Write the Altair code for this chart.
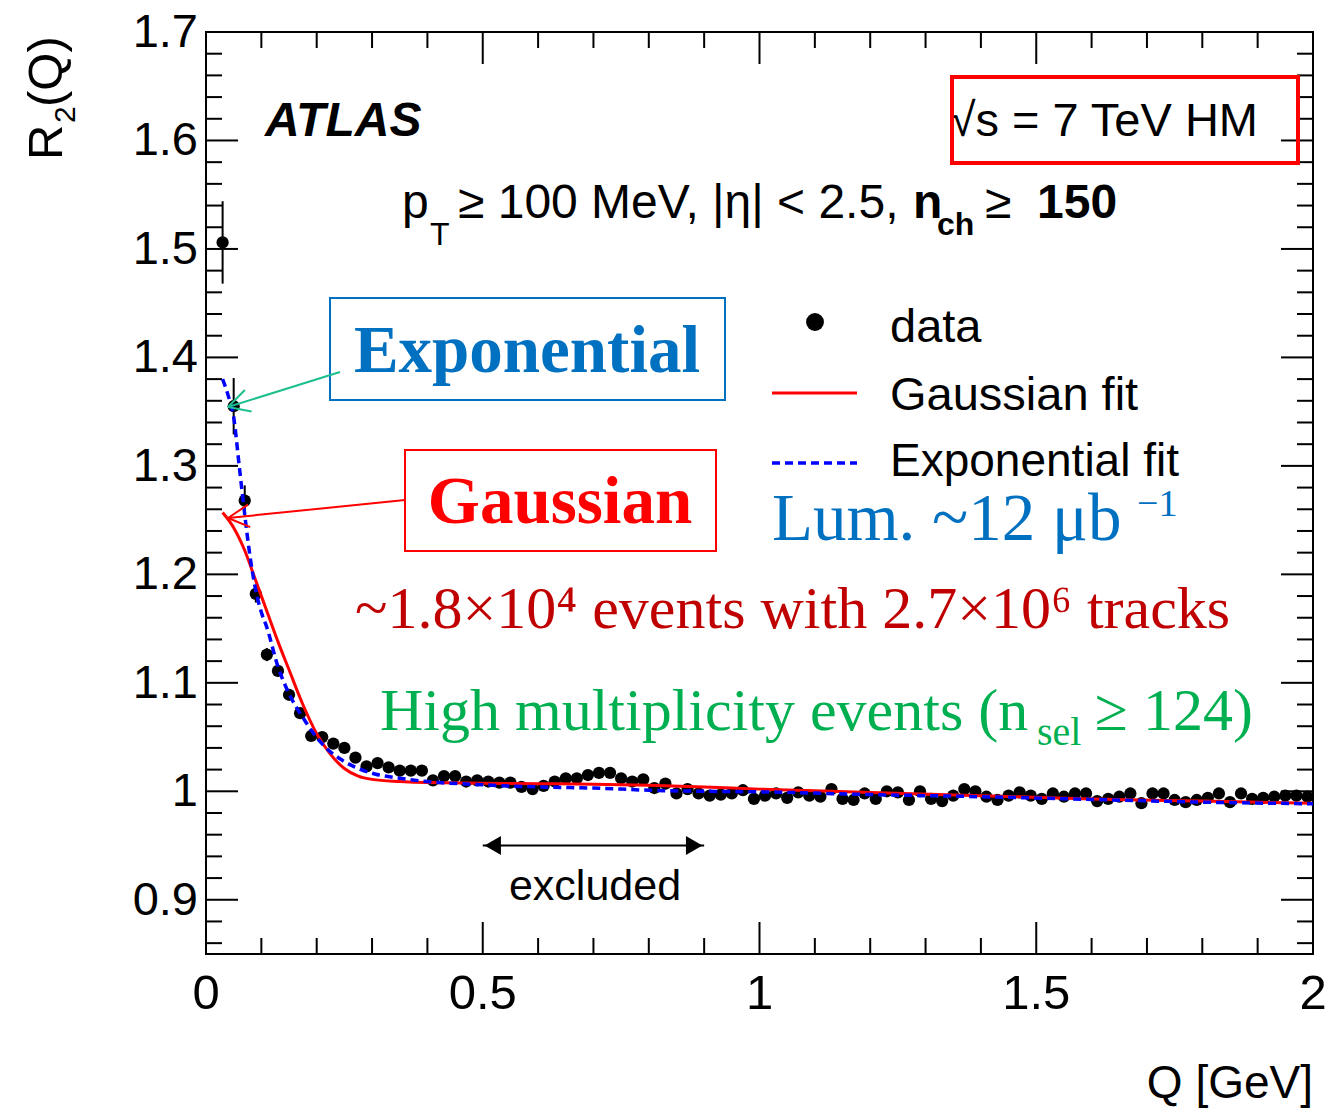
import math
import altair as alt
import pandas as pd

# ---------------- data ----------------
Q = [0.03, 0.05, 0.07, 0.09, 0.11, 0.13, 0.15, 0.17, 0.19, 0.21,
     0.23, 0.25, 0.27, 0.29, 0.31, 0.33, 0.35, 0.37, 0.39, 0.41,
     0.43, 0.45, 0.47, 0.49, 0.51, 0.53, 0.55, 0.57, 0.59, 0.61,
     0.63, 0.65, 0.67, 0.69, 0.71, 0.73, 0.75, 0.77, 0.79, 0.81,
     0.83, 0.85, 0.87, 0.89, 0.91, 0.93, 0.95, 0.97, 0.99, 1.01,
     1.03, 1.05, 1.07, 1.09, 1.11, 1.13, 1.15, 1.17, 1.19, 1.21,
     1.23, 1.25, 1.27, 1.29, 1.31, 1.33, 1.35, 1.37, 1.39, 1.41,
     1.43, 1.45, 1.47, 1.49, 1.51, 1.53, 1.55, 1.57, 1.59, 1.61,
     1.63, 1.65, 1.67, 1.69, 1.71, 1.73, 1.75, 1.77, 1.79, 1.81,
     1.83, 1.85, 1.87, 1.89, 1.91, 1.93, 1.95, 1.97, 1.99]
R2 = [1.506, 1.355, 1.268, 1.182, 1.126, 1.111, 1.089, 1.072, 1.051, 1.050,
      1.044, 1.040, 1.031, 1.023, 1.026, 1.022, 1.019, 1.019, 1.019, 1.010,
      1.014, 1.014, 1.009, 1.010, 1.009, 1.008, 1.008, 1.004, 1.002, 1.005,
      1.009, 1.012, 1.012, 1.015, 1.017, 1.017, 1.012, 1.009, 1.011, 1.003,
      1.007, 0.998, 1.002, 0.998, 0.996, 0.997, 0.998, 1.001, 0.993, 0.996,
      0.998, 0.994, 0.999, 0.996, 0.995, 1.002, 0.993, 0.992, 0.998, 0.993,
      1.000, 0.999, 0.992, 1.000, 0.993, 0.991, 0.996, 1.002, 1.000, 0.995,
      0.992, 0.996, 0.999, 0.996, 0.993, 0.998, 0.995, 0.998, 0.998, 0.991,
      0.993, 0.995, 0.998, 0.989, 0.998, 0.998, 0.992, 0.990, 0.992, 0.994,
      0.998, 0.990, 0.998, 0.993, 0.994, 0.995, 0.996, 0.996, 0.995]
ERR_Q = [0.03, 0.05, 0.07, 0.09, 0.11, 0.13]
ERR = [0.038, 0.026, 0.014, 0.008, 0.006, 0.005]

GAUSS_Q = [0.03, 0.05, 0.07, 0.09, 0.11, 0.13, 0.15, 0.175, 0.2, 0.225, 0.25,
           0.275, 0.3, 0.35, 0.4, 0.5, 0.6, 0.7, 0.8, 0.9, 1.0, 1.1, 1.2,
           1.4, 1.6, 1.8, 2.0]
GAUSS_R = [1.257, 1.243, 1.222, 1.194, 1.166, 1.138, 1.112, 1.080, 1.053,
           1.034, 1.021, 1.014, 1.011, 1.009, 1.008, 1.0075, 1.007, 1.0065,
           1.0055, 1.004, 1.002, 1.0005, 0.999, 0.996, 0.993, 0.991, 0.989]
EXPO_Q = [0.03, 0.04, 0.05, 0.06, 0.07, 0.08, 0.09, 0.10, 0.11, 0.13, 0.15,
          0.175, 0.195, 0.215, 0.245, 0.275, 0.305, 0.35, 0.4, 0.5, 0.6, 0.7,
          0.8, 0.9, 1.0, 1.2, 1.4, 1.6, 1.8, 2.0]
EXPO_R = [1.380, 1.365, 1.345, 1.300, 1.255, 1.215, 1.185, 1.165, 1.151,
          1.115, 1.090, 1.068, 1.053, 1.041, 1.029, 1.021, 1.016, 1.012,
          1.009, 1.006, 1.004, 1.003, 1.001, 1.0, 0.9995, 0.997, 0.995,
          0.9925, 0.990, 0.9885]

Y_MAJOR = [0.9, 1.0, 1.1, 1.2, 1.3, 1.4, 1.5, 1.6, 1.7]
Y_LABELS = ["0.9", "1", "1.1", "1.2", "1.3", "1.4", "1.5", "1.6", "1.7"]
Y_MINOR = [0.86, 0.88, 0.92, 0.94, 0.96, 0.98, 1.02, 1.04, 1.06, 1.08,
           1.12, 1.14, 1.16, 1.18, 1.22, 1.24, 1.26, 1.28, 1.32, 1.34,
           1.36, 1.38, 1.42, 1.44, 1.46, 1.48, 1.52, 1.54, 1.56, 1.58,
           1.62, 1.64, 1.66, 1.68]
X_MAJOR = [0, 0.5, 1, 1.5, 2]
X_LABELS = ["0", "0.5", "1", "1.5", "2"]
X_MINOR = [0.1, 0.2, 0.3, 0.4, 0.6, 0.7, 0.8, 0.9, 1.1, 1.2, 1.3, 1.4,
           1.6, 1.7, 1.8, 1.9]
EXCLUDED = [0.5, 0.9]
EXCLUDED_Y = 0.95

# ---------------- styling ----------------
W, H = 1107, 922
SANS = "'Liberation Sans', Arial, sans-serif"
SERIF = "'Liberation Serif', 'Times New Roman', serif"
BLUE_T = "#0070C0"
DARKRED = "#C00000"
GREEN = "#00B050"
TEAL = "#1DBF8E"

xs = alt.Scale(domain=[0, 2], nice=False, zero=False)
ys = alt.Scale(domain=[0.85, 1.7], nice=False, zero=False)
one = pd.DataFrame({"k": [0]})


def txt(s, x, y, size, font=SANS, color="black", align="left",
        baseline="alphabetic", weight="normal", style="normal", angle=0):
    return alt.Chart(one).mark_text(
        text=s, align=align, baseline=baseline, font=font, fontSize=size,
        color=color, fontWeight=weight, fontStyle=style, angle=angle
    ).encode(x=alt.value(x), y=alt.value(y))


def seg(x0, y0, x1, y1, color, width=2, dash=None):
    kw = dict(color=color, strokeWidth=width)
    if dash:
        kw["strokeDash"] = dash
    return alt.Chart(one).mark_rule(**kw).encode(
        x=alt.value(x0), y=alt.value(y0), x2=alt.value(x1), y2=alt.value(y1))


def arrow(x0, y0, x1, y1, color, width=2, head=24, ang=28):
    d = math.atan2(y0 - y1, x0 - x1)
    out = [seg(x0, y0, x1, y1, color, width)]
    for s in (1, -1):
        a = d + s * math.radians(ang)
        out.append(seg(x1, y1, x1 + head * math.cos(a), y1 + head * math.sin(a), color, width))
    return out


def box(x0, y0, x1, y1, color, width):
    return alt.Chart(one).mark_rect(filled=False, stroke=color, strokeWidth=width).encode(
        x=alt.value(x0), x2=alt.value(x1), y=alt.value(y0), y2=alt.value(y1))


def yticks(vals, length, right=False):
    df = pd.DataFrame({"v": vals})
    x0 = W if right else 0
    x1 = W - length if right else length
    return alt.Chart(df).mark_rule(color="black", strokeWidth=2).encode(
        y=alt.Y("v:Q", scale=ys, axis=None), x=alt.value(x0), x2=alt.value(x1))


def xticks(vals, length, top=False):
    df = pd.DataFrame({"v": vals})
    y0 = 0 if top else H
    y1 = length if top else H - length
    return alt.Chart(df).mark_rule(color="black", strokeWidth=2).encode(
        x=alt.X("v:Q", scale=xs, axis=None), y=alt.value(y0), y2=alt.value(y1))


ticks = [yticks(Y_MAJOR, 32), yticks(Y_MINOR, 16),
         yticks(Y_MAJOR, 32, True), yticks(Y_MINOR, 16, True),
         xticks(X_MAJOR, 32), xticks(X_MINOR, 16),
         xticks(X_MAJOR, 32, True), xticks(X_MINOR, 16, True)]

ylab = alt.Chart(pd.DataFrame({"v": Y_MAJOR, "t": Y_LABELS})).mark_text(
    align="right", baseline="middle", font=SANS, fontSize=47, color="black", dy=1).encode(
    y=alt.Y("v:Q", scale=ys, axis=None), x=alt.value(-8), text="t:N")
xlab = alt.Chart(pd.DataFrame({"v": X_MAJOR, "t": X_LABELS})).mark_text(
    align="center", baseline="alphabetic", font=SANS, fontSize=49, color="black").encode(
    x=alt.X("v:Q", scale=xs, axis=None), y=alt.value(H + 55), text="t:N")

data = pd.DataFrame({"q": Q, "r": R2})
err = pd.DataFrame({"q": ERR_Q, "lo": [R2[Q.index(q)] - e for q, e in zip(ERR_Q, ERR)],
                    "hi": [R2[Q.index(q)] + e for q, e in zip(ERR_Q, ERR)]})

points = alt.Chart(data).mark_circle(size=150, color="black", opacity=1).encode(
    x=alt.X("q:Q", scale=xs, axis=None), y=alt.Y("r:Q", scale=ys, axis=None))

errbars = alt.Chart(err).mark_rule(color="black", strokeWidth=2).encode(
    x=alt.X("q:Q", scale=xs, axis=None), y=alt.Y("lo:Q", scale=ys, axis=None), y2="hi:Q")

gauss = alt.Chart(pd.DataFrame({"q": GAUSS_Q, "r": GAUSS_R})).mark_line(
    color="#FF0000", strokeWidth=3, interpolate="monotone").encode(
    x=alt.X("q:Q", scale=xs, axis=None), y=alt.Y("r:Q", scale=ys, axis=None))
expo = alt.Chart(pd.DataFrame({"q": EXPO_Q, "r": EXPO_R})).mark_line(
    color="#0000FF", strokeWidth=3.5, strokeDash=[8, 5], interpolate="monotone").encode(
    x=alt.X("q:Q", scale=xs, axis=None), y=alt.Y("r:Q", scale=ys, axis=None))

# excluded double arrow (data coordinates)
exc_df = pd.DataFrame({"a": [EXCLUDED[0]], "b": [EXCLUDED[1]], "y": [EXCLUDED_Y]})
exc_line = alt.Chart(exc_df).mark_rule(color="black", strokeWidth=2).encode(
    x=alt.X("a:Q", scale=xs, axis=None), x2="b:Q", y=alt.Y("y:Q", scale=ys, axis=None))
exc_l = alt.Chart(exc_df).mark_point(shape="triangle-left", filled=True, size=360,
                                      color="black", opacity=1, xOffset=10).encode(
    x=alt.X("a:Q", scale=xs, axis=None), y=alt.Y("y:Q", scale=ys, axis=None))
exc_r = alt.Chart(exc_df).mark_point(shape="triangle-right", filled=True, size=360,
                                      color="black", opacity=1, xOffset=-10).encode(
    x=alt.X("b:Q", scale=xs, axis=None), y=alt.Y("y:Q", scale=ys, axis=None))

annotations = [
    # axis titles
    txt("R", -144, 128, 49, angle=270),
    txt("2", -131, 91, 30, angle=270),
    txt("(Q)", -144, 75, 49, angle=270),
    txt("Q [GeV]", W, 1066, 46, align="right"),
    # ATLAS + energy
    txt("ATLAS", 59, 104, 48, weight="bold", style="italic"),
    txt("√s = 7 TeV HM", 1052, 104, 47, align="right"),
    box(746, 45, 1092, 131, "#FF0000", 4),
    # selection line
    txt("p", 196, 186, 48),
    txt("T", 224, 213, 32),
    txt("≥ 100 MeV, |η| < 2.5,", 252, 186, 48),
    txt("n", 707, 186, 48, weight="bold"),
    txt("ch", 731, 203, 32, weight="bold"),
    txt("≥", 779, 186, 48),
    txt("150", 831, 186, 48, weight="bold"),
    # legend
    alt.Chart(one).mark_circle(size=320, color="black", opacity=1).encode(
        x=alt.value(609), y=alt.value(290)),
    txt("data", 684, 310, 47),
    seg(566, 361, 651, 361, "#FF0000", 3),
    txt("Gaussian fit", 684, 378, 47),
    seg(566, 431, 651, 431, "#0000FF", 3.5, [8, 5]),
    txt("Exponential fit", 684, 444, 46),
    # serif annotations
    txt("Lum. ~12 μb", 566, 508, 67, font=SERIF, color=BLUE_T),
    txt("−1", 931, 484, 38, font=SERIF, color=BLUE_T),
    txt("~1.8×10⁴ events with 2.7×10⁶ tracks", 149, 596, 60, font=SERIF, color=DARKRED),
    txt("High multiplicity events (n", 174, 698, 60, font=SERIF, color=GREEN),
    txt("sel", 831, 713, 40, font=SERIF, color=GREEN),
    txt("≥ 124)", 889, 698, 60, font=SERIF, color=GREEN),
    box(124, 266, 519, 368, BLUE_T, 2),
    txt("Exponential", 321, 340, 67, font=SERIF, color=BLUE_T, align="center", weight="bold"),
    box(199, 418, 510, 519, "#FF0000", 2),
    txt("Gaussian", 354, 491, 67, font=SERIF, color="#FF0000", align="center", weight="bold"),
    txt("excluded", 389, 868, 43, align="center"),
]
annotations += arrow(134, 340, 22, 375, TEAL)
annotations += arrow(199, 468, 22, 486, "#FF0000")

chart = alt.layer(
    *ticks, ylab, xlab, errbars, points, gauss, expo, exc_line, exc_l, exc_r, *annotations
).properties(
    width=W, height=H,
    padding={"left": 198, "top": 24, "right": 19, "bottom": 155},
    autosize=alt.AutoSizeParams(type="none"),
).configure_view(stroke="black", strokeWidth=2)

chart.save("out.html", embed_options={"renderer": "svg", "actions": False})
